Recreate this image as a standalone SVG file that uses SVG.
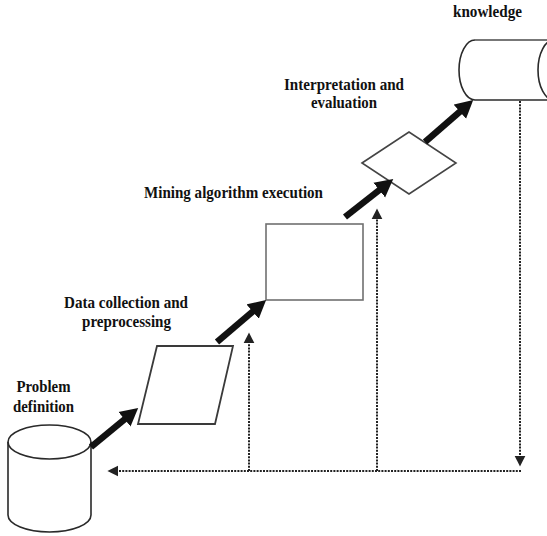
<svg xmlns="http://www.w3.org/2000/svg" width="547" height="536" viewBox="0 0 547 536">
  <style>
    .lbl { font-family: "Liberation Serif", "Times New Roman", serif; font-weight: bold; font-size: 17px; fill: #111; text-anchor: middle; }
    .shape { fill: none; stroke: #2a2a2a; stroke-width: 1.6; }
    .thick { stroke: #111; stroke-width: 6.5; fill: none; }
    .dot { stroke: #222; stroke-width: 2; stroke-dasharray: 2 1.2; fill: none; }
  </style>
  <defs>
    <marker id="bigHead" markerUnits="userSpaceOnUse" markerWidth="20" markerHeight="20" viewBox="0 -9 18 18" refX="2" refY="0" orient="auto">
      <path d="M0,-8.5 L16,0 L0,8.5 z" fill="#111"/>
    </marker>
    <marker id="smallHead" markerUnits="userSpaceOnUse" markerWidth="12" markerHeight="12" viewBox="0 -5 10 10" refX="1" refY="0" orient="auto">
      <path d="M0,-4.5 L9,0 L0,4.5 z" fill="#222"/>
    </marker>
  </defs>

  <g id="problem-definition">
    <ellipse class="shape" cx="49.5" cy="442" rx="41.5" ry="17"/>
    <path class="shape" d="M8 442 V515 A41.5 17 0 0 0 91 515 V442"/>
    <text class="lbl" x="43.5" y="392" textLength="54" lengthAdjust="spacingAndGlyphs">Problem</text>
    <text class="lbl" x="43.5" y="412" textLength="61" lengthAdjust="spacingAndGlyphs">definition</text>
  </g>

  <g id="data-collection">
    <polygon class="shape" points="157,346 233,346 215,424 138,424" style="stroke:#3a3a3a;stroke-width:1.8"/>
    <text class="lbl" x="126" y="308" textLength="124" lengthAdjust="spacingAndGlyphs">Data collection and</text>
    <text class="lbl" x="126.5" y="327" textLength="89" lengthAdjust="spacingAndGlyphs">preprocessing</text>
  </g>

  <g id="mining">
    <rect class="shape" x="266" y="224" width="97" height="76" style="stroke:#707070"/>
    <text class="lbl" x="233.5" y="198" textLength="179" lengthAdjust="spacingAndGlyphs">Mining algorithm execution</text>
  </g>

  <g id="interpretation">
    <polygon class="shape" points="362,163 409,132 456,163 409,194" style="stroke:#444"/>
    <text class="lbl" x="344" y="90" textLength="120" lengthAdjust="spacingAndGlyphs">Interpretation and</text>
    <text class="lbl" x="344" y="108" textLength="66" lengthAdjust="spacingAndGlyphs">evaluation</text>
  </g>

  <g id="knowledge">
    <path class="shape" d="M475 40 A16 30 0 0 0 475 100"/>
    <line x1="475" y1="40" x2="560" y2="40" style="stroke:#777;stroke-width:2.2"/>
    <line class="shape" x1="475" y1="100" x2="560" y2="100"/>
    <ellipse class="shape" cx="554" cy="70" rx="16" ry="30"/>
    <text class="lbl" x="487.5" y="17" textLength="69" lengthAdjust="spacingAndGlyphs">knowledge</text>
  </g>

  <g id="connectors">
    <line class="thick" x1="91" y1="447" x2="126.2" y2="417.9" marker-end="url(#bigHead)"/>
    <line class="thick" x1="217" y1="342" x2="254.3" y2="310.1" marker-end="url(#bigHead)"/>
    <line class="thick" x1="345" y1="217" x2="381" y2="188.7" marker-end="url(#bigHead)"/>
    <line class="thick" x1="425" y1="142" x2="461.5" y2="110.2" marker-end="url(#bigHead)"/>

    <line class="dot" x1="520" y1="101" x2="520" y2="457" marker-end="url(#smallHead)"/>
    <line class="dot" x1="521" y1="471" x2="117" y2="471" marker-end="url(#smallHead)"/>
    <line class="dot" x1="249" y1="471" x2="249" y2="342" marker-end="url(#smallHead)"/>
    <line class="dot" x1="377" y1="471" x2="377" y2="218" marker-end="url(#smallHead)"/>
  </g>
</svg>
